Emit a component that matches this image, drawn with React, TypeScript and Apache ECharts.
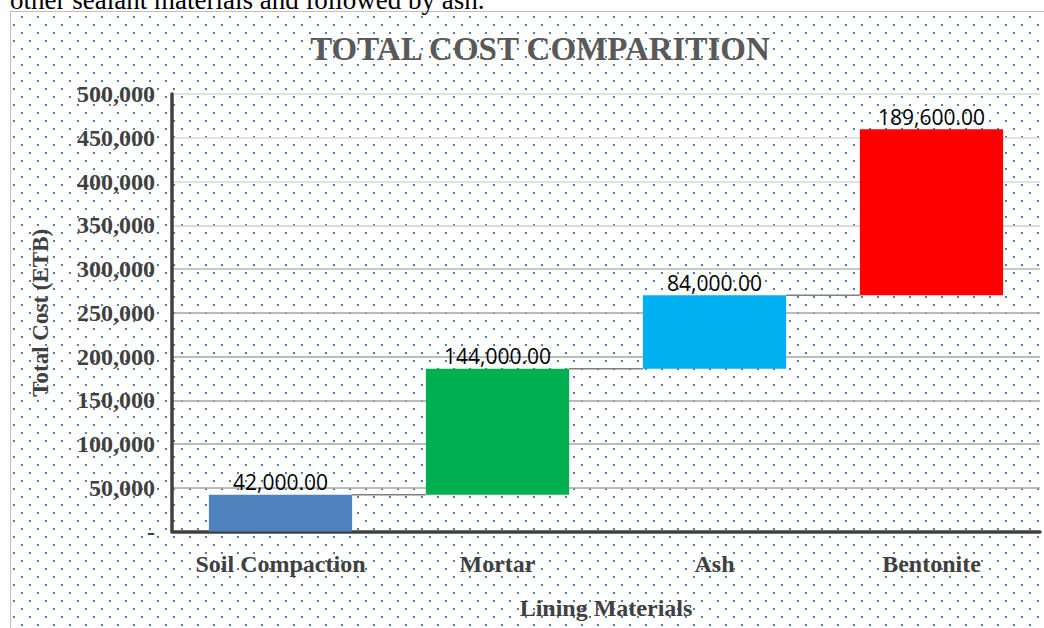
import React, { useEffect, useRef } from "react";
import * as echarts from "echarts";

const categories = ["Soil Compaction", "Mortar", "Ash", "Bentonite"];
const costs = [42000, 144000, 84000, 189600];
const barColors = ["#4F81BD", "#00B050", "#00B0F0", "#FF0000"];
const yMin = 0;
const yMax = 500000;
const yStep = 50000;
const titleText = "TOTAL COST COMPARITION";
const xName = "Lining Materials";
const yName = "Total Cost (ETB)";
const docText = "other sealant materials and followed by ash.";

const serif = "'Liberation Serif', 'Times New Roman', serif";

const dotSvg =
  "url(\"data:image/svg+xml,%3Csvg xmlns='http://www.w3.org/2000/svg' width='16' height='16'%3E%3Crect x='5' y='0' width='2' height='2' fill='%234a7ebb'/%3E%3Crect x='13' y='8' width='2' height='2' fill='%234a7ebb'/%3E%3C/svg%3E\")";

export default function App() {
  const ref = useRef<HTMLDivElement>(null);

  useEffect(() => {
    if (!ref.current) return;
    const chart = echarts.init(ref.current, null, { renderer: "svg" });
    const bases = costs.map((_, i) => costs.slice(0, i).reduce((a, b) => a + b, 0));
    const connectors = costs.slice(0, -1).map((_, i) => [i, bases[i + 1]]);
    const barRatio = 0.66;

    chart.setOption({
      animation: false,
      backgroundColor: "transparent",
      title: {
        text: titleText,
        left: 535,
        top: 27,
        textAlign: "center",
        textStyle: { fontFamily: serif, fontWeight: "bold", fontSize: 33, color: "#595959" },
      },
      graphic: [
        {
          type: "text",
          left: 10,
          top: -14,
          style: { text: docText, font: "27px 'Liberation Serif', serif", fill: "#000" },
        },
      ],
      grid: { left: 172, top: 94, width: 868, height: 437.5, containLabel: false },
      xAxis: {
        type: "category",
        data: categories,
        name: xName,
        nameLocation: "middle",
        nameGap: 64,
        nameTextStyle: { fontFamily: serif, fontWeight: "bold", fontSize: 24, color: "#404040" },
        axisLine: { show: true, lineStyle: { color: "#404040", width: 3.5 } },
        axisTick: { show: false },
        axisLabel: { interval: 0, margin: 20, fontFamily: serif, fontWeight: "bold", fontSize: 24, color: "#404040" },
        splitLine: { show: false },
      },
      yAxis: {
        type: "value",
        min: yMin,
        max: yMax,
        interval: yStep,
        name: yName,
        nameLocation: "middle",
        nameRotate: 90,
        nameGap: 120,
        nameTextStyle: { fontFamily: serif, fontWeight: "bold", fontSize: 23, color: "#404040" },
        axisLine: { show: true, lineStyle: { color: "#404040", width: 3.5 } },
        axisTick: { show: false },
        axisLabel: {
          margin: 17,
          fontFamily: serif,
          fontWeight: "bold",
          fontSize: 24,
          color: "#404040",
          formatter: (v: number) => (v === 0 ? "-" : v.toLocaleString("en-US")),
        },
        splitLine: {
          show: true,
          showMinLine: false,
          lineStyle: {
            width: 1.5,
            color: ["#a6a6a6", "#a6a6a6", "#a6a6a6", "#a6a6a6", "#a6a6a6", "#b4b4b4", "#cfcfcf", "#d9d9d9", "#d9d9d9", "#d9d9d9"],
          },
        },
      },
      series: [
        {
          type: "bar",
          stack: "total",
          barWidth: `${barRatio * 100}%`,
          itemStyle: { color: "transparent" },
          emphasis: { disabled: true },
          data: bases,
          silent: true,
        },
        {
          type: "bar",
          stack: "total",
          barWidth: `${barRatio * 100}%`,
          data: costs.map((v, i) => ({ value: v, itemStyle: { color: barColors[i] } })),
          label: {
            show: true,
            position: "top",
            distance: 2,
            fontFamily: "'Open Sans', sans-serif",
            fontSize: 21,
            color: "#000",
            formatter: (p: any) =>
              Number(p.value).toLocaleString("en-US", { minimumFractionDigits: 2, maximumFractionDigits: 2 }),
          },
          z: 3,
        },
        {
          type: "custom",
          data: connectors,
          z: 2,
          silent: true,
          renderItem: (params: any, api: any) => {
            const i = api.value(0);
            const v = api.value(1);
            const p = api.coord([i, v]);
            const band = api.size([1, 0])[0];
            const half = (band * barRatio) / 2;
            return {
              type: "line",
              shape: { x1: p[0] + half, y1: p[1], x2: p[0] + band - half, y2: p[1] },
              style: { stroke: "#7f7f7f", lineWidth: 1.5 },
            };
          },
        },
      ],
    });
    return () => chart.dispose();
  }, []);

  return (
    <div style={{ position: "absolute", left: 0, top: 0, width: 1044, height: 628, overflow: "hidden", background: "#fff" }}>
      <div
        style={{
          position: "absolute",
          left: 10,
          top: 11,
          width: 1100,
          height: 700,
          borderLeft: "1px solid #bfbfbf",
          borderTop: "1px solid #bfbfbf",
          backgroundImage: dotSvg,
          backgroundPosition: "-11px -12px",
          backgroundRepeat: "repeat",
        }}
      />
      <div ref={ref} style={{ position: "absolute", left: 0, top: 0, width: 1044, height: 628 }} />
    </div>
  );
}
